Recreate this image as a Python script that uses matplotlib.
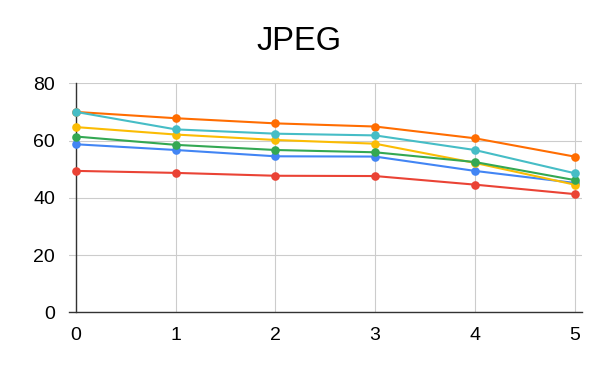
import matplotlib
matplotlib.use("Agg")
import matplotlib.pyplot as plt

plt.rcParams['font.family'] = ['Liberation Sans', 'DejaVu Sans']

x = [0, 1, 2, 3, 4, 5]
blue = [58.7, 56.7, 54.5, 54.4, 49.4, 45.2]
red = [49.4, 48.7, 47.7, 47.6, 44.6, 41.3]
yellow = [64.7, 62.1, 60.2, 58.9, 52.2, 44.6]
green = [61.4, 58.5, 56.7, 55.9, 52.5, 46.2]
orange = [70.0, 67.8, 66.0, 64.9, 60.8, 54.4]
teal = [70.0, 63.9, 62.4, 61.8, 56.7, 48.6]

series = [
    (blue, '#4285F4'),
    (red, '#EA4335'),
    (yellow, '#FBBC04'),
    (green, '#34A853'),
    (orange, '#FF6D01'),
    (teal, '#46BDC6'),
]

yticks = [0, 20, 40, 60, 80]
xticks = [0, 1, 2, 3, 4, 5]

fig = plt.figure(figsize=(6, 3.71), dpi=100)
ax = fig.add_axes([69/600, 1-312.3/371, (582-69)/600, (312.3-83.3)/371])

for vals, c in series:
    ax.plot(x, vals, color=c, lw=1.5, marker='o', markersize=6.2,
            markeredgewidth=0, zorder=3)

ax.set_xlim(-0.07, 5.075)
ax.set_ylim(0, 80)
ax.set_yticks(yticks)
ax.set_xticks(xticks)
ax.grid(True, color='#cccccc', lw=0.8)
ax.set_axisbelow(True)
for s in ['top', 'right']:
    ax.spines[s].set_visible(False)
ax.spines['left'].set_position(('data', 0))
ax.spines['left'].set_color('#333333')
ax.spines['bottom'].set_color('#333333')
ax.spines['left'].set_linewidth(1.0)
ax.spines['bottom'].set_linewidth(1.0)
ax.tick_params(axis='both', length=0, labelsize=14, colors='#000000')
ax.tick_params(axis='y', pad=15)
ax.tick_params(axis='x', pad=10.5)

fig.text(299/600, 1-50/371, 'JPEG', ha='center', va='baseline', fontsize=23.5)

fig.savefig('out.png', dpi=100)
